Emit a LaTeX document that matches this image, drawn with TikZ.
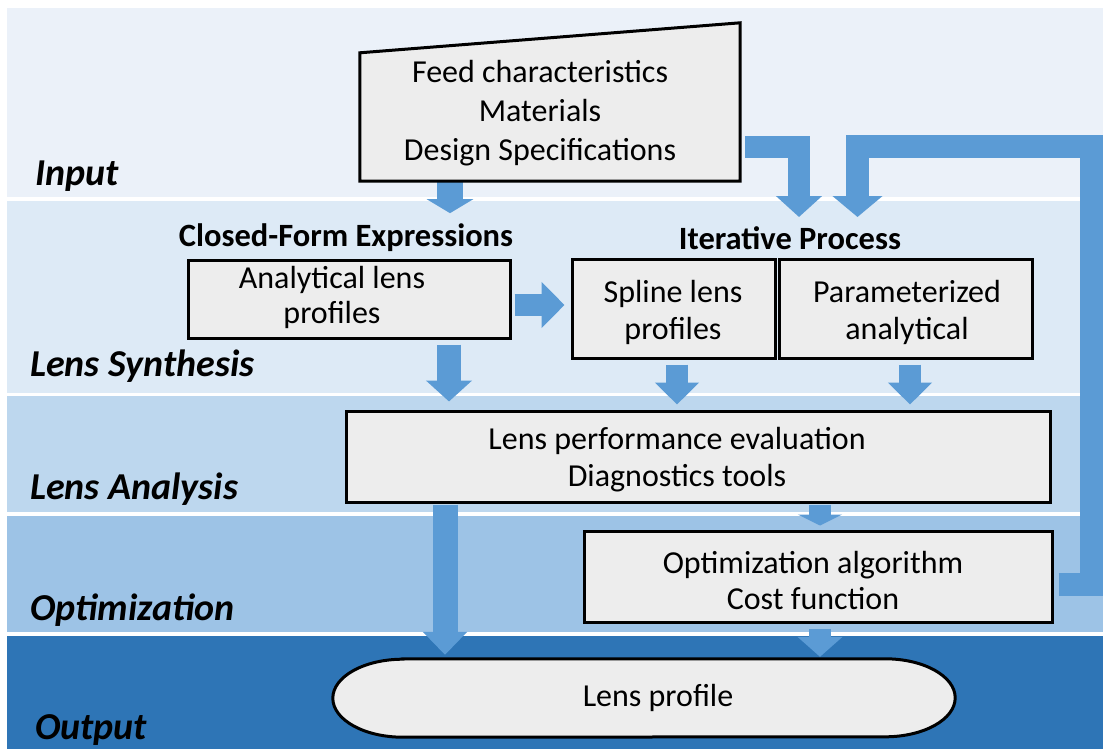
\documentclass[tikz,border=0pt]{standalone}
\usepackage{fontspec}
\setmainfont{Carlito}
\usetikzlibrary{arrows.meta,calc}
\definecolor{bandA}{RGB}{235,241,249}
\definecolor{bandB}{RGB}{221,234,246}
\definecolor{bandC}{RGB}{189,215,238}
\definecolor{bandD}{RGB}{157,195,230}
\definecolor{bandE}{RGB}{46,117,182}
\definecolor{arrowblue}{RGB}{91,155,213}
\definecolor{boxfill}{RGB}{237,237,237}
\newcommand{\bodyfont}{\fontsize{32}{37}\selectfont}
\tikzset{
  boxnode/.style={draw=black, line width=3pt, fill=boxfill, rectangle, inner sep=0pt},
  ghost/.style={rectangle, inner sep=0pt, draw=none},
  txt/.style={font=\bodyfont, align=center, inner sep=0pt},
  bandlabel/.style={font=\fontsize{38}{44}\selectfont\bfseries\itshape, anchor=base west, inner sep=0pt},
  header/.style={font=\fontsize{32.5}{38}\selectfont\bfseries, inner sep=0pt},
  bar/.style n args={3}{draw=arrowblue, line width=#1, line join=miter,
     -{Triangle[width=#2, length=#3]}},
}
\begin{document}
\begin{tikzpicture}[x=1pt,y=-1pt]
\useasboundingbox (0,0) rectangle (1103,749);
\fill[white] (0,0) rectangle (1103,749);
% bands
\fill[bandA] (7,8) rectangle (1103,197);
\fill[bandB] (7,201) rectangle (1103,393);
\fill[bandC] (7,396) rectangle (1103,512);
\fill[bandD] (7,516) rectangle (1103,632);
\fill[bandE] (7,636) rectangle (1103,749);
% band labels
\node[bandlabel] (lIn) at (35,185) {Input};
\node[bandlabel] (lSyn) at (30,376) {Lens Synthesis};
\node[bandlabel] (lAna) at (30,499) {Lens Analysis};
\node[bandlabel] (lOpt) at (30,620) {Optimization};
\node[bandlabel] (lOut) at (35,739) {Output};
% headers
\node[header] (cfe) at (346,238) {Closed-Form Expressions};
\node[header] (itp) at (790,238) {Iterative Process};
% nodes (geometry)
\node[ghost, minimum width=380pt, minimum height=158pt] (input) at (550,102) {};
\node[boxnode, minimum width=322pt, minimum height=78pt] (anal) at (349,299) {};
\node[boxnode, minimum width=203pt, minimum height=99pt] (spline) at (673.5,308.5) {};
\node[boxnode, minimum width=253pt, minimum height=99pt] (param) at (905.5,308.5) {};
\node[boxnode, minimum width=704pt, minimum height=91pt] (analysis) at (698,456.5) {};
\node[boxnode, minimum width=468pt, minimum height=91pt] (opt) at (818,576.5) {};
\node[ghost, minimum width=622pt, minimum height=78pt] (lens) at (644,698) {};
% arrows
\draw[bar={26pt}{46pt}{14pt}] (input.south -| 450,0) -- ++(0,32);
\draw[bar={22pt}{45pt}{21pt}, shorten <=5pt] (input.east |- 0,147) -- (799,147) -- (799,217);
\draw[bar={23pt}{49pt}{21pt}, shorten <=5pt] (opt.east |- 0,584) -- (1091.5,584) -- (1091.5,147) -- (857.5,147) -- (857.5,217);
\draw[bar={22pt}{45pt}{23pt}, shorten <=3pt, shorten >=6pt] (anal.east |- 0,305) -- (spline.west |- 0,305);
\draw[bar={24pt}{45pt}{21pt}, shorten <=5pt, shorten >=8pt] (anal.south -| 449,0) -- (analysis.north -| 449,0);
\draw[bar={22pt}{43pt}{22pt}, shorten <=5pt, shorten >=5pt] (spline.south -| 677,0) -- (analysis.north -| 677,0);
\draw[bar={22pt}{43pt}{22pt}, shorten <=5pt, shorten >=5pt] (param.south -| 910,0) -- (analysis.north -| 910,0);
\draw[bar={22pt}{44pt}{11pt}, shorten <=1pt, shorten >=4pt] (analysis.south -| 820,0) -- (opt.north -| 820,0);
\draw[bar={25pt}{43pt}{23pt}, shorten <=1pt, shorten >=4pt] (analysis.south -| 445,0) -- (lens.north -| 445,0);
\draw[bar={22pt}{44pt}{20pt}, shorten <=5pt, shorten >=2pt] (opt.south -| 820,0) -- (lens.north -| 820,0);
% redraw boxes over arrows
\node[boxnode, minimum width=322pt, minimum height=78pt] at (anal) {};
\node[boxnode, minimum width=468pt, minimum height=91pt] at (opt) {};
% input trapezoid
\draw[line width=3pt, fill=boxfill, line join=miter] (input.south west) -- (input.south east) -- (input.north east) -- ([yshift=-30pt]input.north west) -- cycle;
% lens stadium
\draw[line width=3pt, fill=boxfill] ([xshift=70pt]lens.north west) -- ([xshift=-70pt]lens.north east)
  arc[start angle=-90, end angle=90, x radius=70, y radius=39]
  -- ([xshift=70pt]lens.south west)
  arc[start angle=90, end angle=270, x radius=70, y radius=39] -- cycle;
% texts
\node[txt, font=\fontsize{32}{39}\selectfont] (tIn) at (540,113) {Feed characteristics\\Materials\\Design Specifications};
\node[txt, font=\fontsize{32}{35}\selectfont] (tAnal) at (332,297) {Analytical lens\\profiles};
\node[txt] (tSpl) at (673,312) {Spline lens\\profiles};
\node[txt] (tPar) at (907,312) {Parameterized\\analytical};
\node[txt] (tAna) at (677,460) {Lens performance evaluation\\Diagnostics tools};
\node[txt, font=\fontsize{32}{36}\selectfont] (tOpt) at (813,581) {Optimization algorithm\\Cost function};
\node[txt] (tLens) at (658,698) {Lens profile};
\end{tikzpicture}
\end{document}
